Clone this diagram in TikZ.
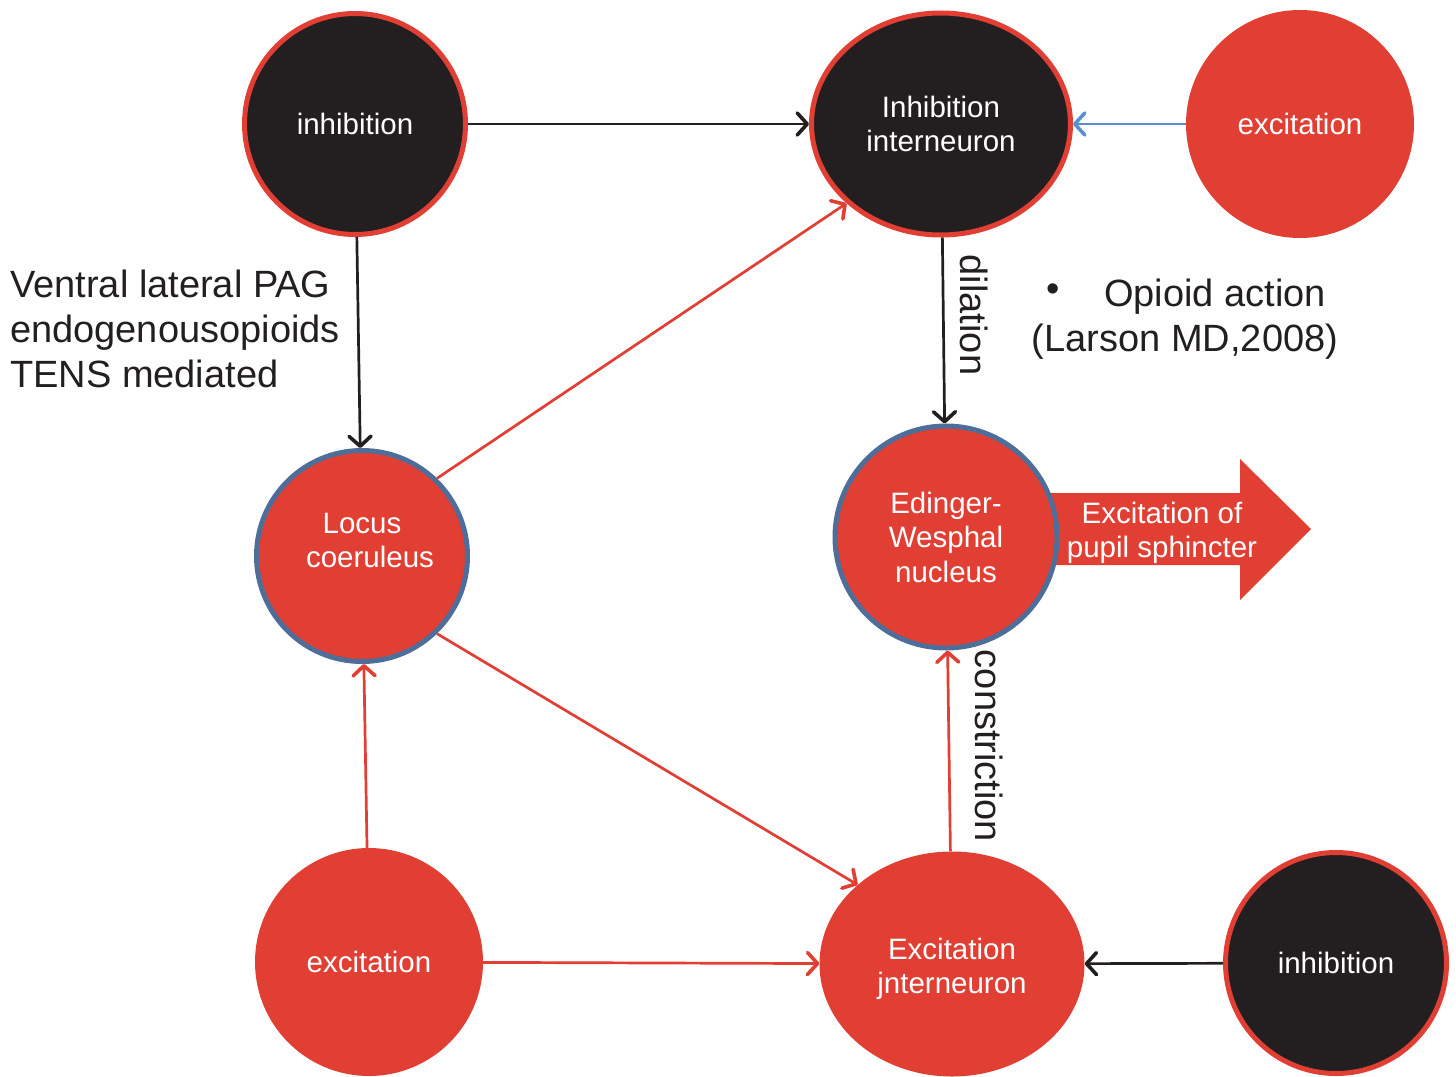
\documentclass[tikz,border=0pt]{standalone}
\usepackage{fontspec}
\setmainfont{Liberation Sans}
\usetikzlibrary{shapes.geometric,arrows.meta}
\definecolor{myred}{RGB}{225,62,52}
\definecolor{myblack}{RGB}{35,31,32}
\definecolor{myblue}{RGB}{78,110,154}
\definecolor{arrblue}{RGB}{91,143,204}
\tikzset{
  ntext/.style={text=white, font=\fontsize{29.5}{34.5}\selectfont, align=center},
  blackcirc/.style={circle, fill=myblack, draw=myred, line width=5pt, minimum size=#1, inner sep=0pt, ntext},
  redcirc/.style={circle, fill=myred, minimum size=#1, inner sep=0pt, ntext},
  bluecirc/.style={circle, fill=myred, draw=myblue, line width=5pt, minimum size=#1, inner sep=0pt, ntext},
  lbl/.style={text=myblack, font=\fontsize{38}{45}\selectfont, inner sep=0pt},
  conn/.style={line width=2.7pt, -{Straight Barb[length=10pt,width=22pt,line width=3.6pt,round]}},
  redc/.style={conn, draw=myred},
  blkc/.style={conn, draw=myblack},
  bluc/.style={conn, draw=arrblue}
}
\begin{document}
\begin{tikzpicture}[x=1pt,y=-1pt]
\useasboundingbox (0,0) rectangle (1456,1076);
\begin{scope}
\clip (0,0) rectangle (1456,1076);
% big arrow behind the Edinger-Westphal node
\fill[myred] (1040,493) -- (1240,493) -- (1240,459) -- (1311,529) -- (1240,600) -- (1240,565) -- (1040,565) -- cycle;
\node[ntext] (arrtxt) at (1162,533) {Excitation of\\pupil sphincter};

\node[blackcirc=221pt] (inhTL) at (355,124) {inhibition};
\node[ellipse, fill=myblack, draw=myred, line width=5pt, minimum width=259pt, minimum height=222pt, inner sep=0pt, ntext] (intI) at (941,124) {Inhibition\\interneuron};
\node[redcirc=228pt] (excTR) at (1300,124) {excitation};
\node[bluecirc=211pt] (lc) at (362,556) {};
\node[ntext] (lct1) at (362,523) {Locus};
\node[ntext] (lct2) at (370,557) {coeruleus};
\node[bluecirc=222pt] (ew) at (946,537) {Edinger-\\Wesphal\\nucleus};
\node[redcirc=228pt] (excBL) at (369,962) {excitation};
\node[ellipse, fill=myred, minimum width=265pt, minimum height=225pt, inner sep=0pt] (excI) at (952,964) {};
\node[ntext] (excItxt) at (952,969) {Excitation\\jnterneuron};
\node[blackcirc=221pt] (inhBR) at (1336,963) {inhibition};
\end{scope}

% connectors
\draw[blkc] (inhTL) -- (intI);
\draw[bluc] (excTR) -- (intI);
\draw[blkc] (inhTL) -- (lc);
\draw[redc] (lc.46) -- (intI.220);
\draw[blkc] (intI) -- (ew);
\draw[redc] (lc.314) -- (excI.140);
\draw[redc] (excBL) -- (lc);
\draw[redc] (excBL) -- (excI);
\draw[redc] (excI) -- (ew);
\draw[blkc] (inhBR) -- (excI);

% labels
\node[lbl, rotate=-90] (dil) at (974,315) {dilation};
\node[lbl, rotate=-90] (con) at (989,746) {constriction};
\node[lbl, anchor=base west] (v1) at (10,297) {Ventral lateral PAG};
\node[lbl, anchor=base west] (v2) at (10,342) {endogenous\hspace{0.2pt}opioids};
\node[lbl, anchor=base west] (v3) at (10,387) {TENS mediated};
\node[lbl] (bul) at (1053,293) {•};
\node[lbl, anchor=base west] (op1) at (1104,306) {Opioid action};
\node[lbl, anchor=base] (op2) at (1185,351) {(Larson MD,2008)};
\end{tikzpicture}
\end{document}
